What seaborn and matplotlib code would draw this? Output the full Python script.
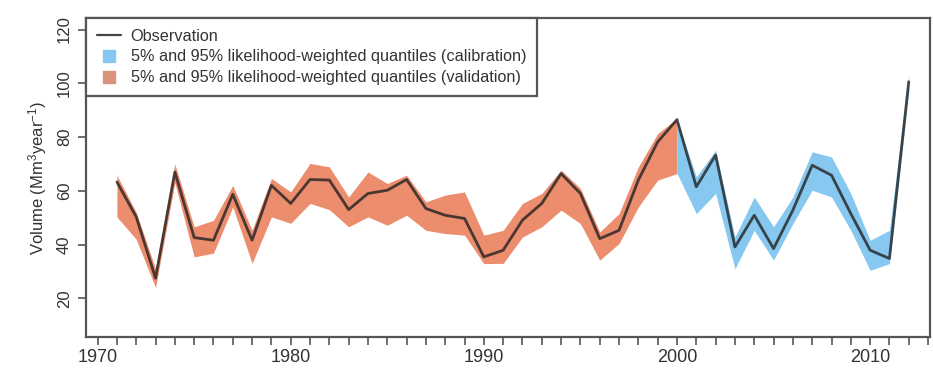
import numpy as np
import pandas as pd
import matplotlib
matplotlib.use("Agg")
import matplotlib.pyplot as plt
from matplotlib.lines import Line2D
import seaborn as sns

# ---------------- data ----------------
years = list(range(1971, 2013))
observation = [63.3, 50.3, 27.5, 67.0, 42.6, 41.6, 58.7, 41.6, 62.0, 55.3,
               64.2, 64.0, 53.0, 59.0, 60.2, 64.2, 53.4, 50.9, 49.7, 35.4,
               37.9, 49.1, 55.3, 66.4, 59.0, 42.2, 45.3, 64.0, 78.2, 86.5,
               61.5, 73.3, 39.1, 50.9, 38.5, 52.8, 69.5, 65.8, 51.5, 37.9,
               34.8, 100.6]

val_years = list(range(1971, 2001))
val_low = [50.3, 42.0, 24.0, 63.0, 35.4, 36.8, 54.0, 33.0, 50.3, 47.9,
           55.3, 53.0, 46.6, 50.3, 47.2, 50.9, 45.3, 44.1, 43.5, 32.9,
           33.0, 42.8, 46.6, 52.8, 47.8, 34.2, 40.4, 54.0, 64.0, 66.4]
val_high = [65.8, 52.0, 31.0, 70.0, 46.6, 49.0, 62.0, 45.3, 64.6, 59.6,
            70.2, 68.9, 57.7, 67.0, 62.7, 65.8, 55.9, 58.4, 59.6, 43.5,
            45.3, 55.3, 59.0, 67.7, 60.9, 44.7, 51.5, 68.9, 81.3, 86.9]

cal_years = list(range(2000, 2013))
cal_low = [66.5, 51.5, 59.0, 31.0, 45.3, 34.2, 47.8, 60.2, 57.7, 45.3,
           30.4, 32.9, 97.0]
cal_high = [86.5, 65.2, 75.1, 42.8, 57.7, 46.6, 57.7, 74.5, 72.6, 59.0,
            41.6, 45.3, 103.0]

x_labels = ["1970", "1980", "1990", "2000", "2010"]
y_ticks = [20, 40, 60, 80, 100, 120]

legend_labels = ["Observation",
                 "5% and 95% likelihood-weighted quantiles (calibration)",
                 "5% and 95% likelihood-weighted quantiles (validation)"]

# ---------------- style ----------------
sns.set_style("white")
plt.rcParams["font.family"] = ["Liberation Sans", "DejaVu Sans"]
plt.rcParams["mathtext.default"] = "regular"

col_val = "#EC8D6E"
col_cal = "#86C8EF"
col_line = "#222222"
col_axis = "#555555"

fig = plt.figure(figsize=(9.33, 3.72), dpi=100)
ax = fig.add_axes([86 / 933, 1 - 337 / 372, (930 - 86) / 933, (337 - 18) / 372])

ax.fill_between(val_years, val_low, val_high, color=col_val, linewidth=0, zorder=1)
ax.fill_between(cal_years, cal_low, cal_high, color=col_cal, linewidth=0, zorder=1)

df = pd.DataFrame({"year": years, "obs": observation})
sns.lineplot(data=df, x="year", y="obs", ax=ax, color=col_line, alpha=0.8,
             linewidth=2.0, zorder=3)

ax.set_xlim(1969.4, 2013.1)
ax.set_ylim(5.6, 124.3)

tick_years = list(range(1970, 2014))
ax.set_xticks(tick_years)
ax.set_xticklabels([x_labels[(y - 1970) // 10] if y % 10 == 0 else ""
                    for y in tick_years])
ax.set_yticks(y_ticks)
ax.set_yticklabels([str(v) for v in y_ticks], rotation=90, va="center")

ax.tick_params(axis="both", which="both", direction="out", length=6,
               width=1.2, color=col_axis, labelcolor="#333333",
               bottom=True, left=True, top=False, right=False)
ax.tick_params(axis="x", labelsize=13, pad=3)
ax.tick_params(axis="y", labelsize=12, pad=4)

for s in ax.spines.values():
    s.set_color(col_axis)
    s.set_linewidth(1.6)

ax.set_xlabel("")
ax.set_ylabel("Volume (Mm$^3$year$^{-1}$)", fontsize=12, color="#333333",
              labelpad=6)

handles = [Line2D([0], [0], color="#444444", linewidth=1.6),
           Line2D([0], [0], marker="s", linestyle="none", markersize=9,
                  markerfacecolor=col_cal, markeredgecolor=col_cal),
           Line2D([0], [0], marker="s", linestyle="none", markersize=9,
                  markerfacecolor="#D9927C", markeredgecolor="#D9927C")]
leg = ax.legend(handles, legend_labels, loc="upper left",
                bbox_to_anchor=(0, 1), borderaxespad=0, fontsize=11.7,
                frameon=True, fancybox=False, handlelength=1.5,
                handletextpad=0.6, labelspacing=0.36, borderpad=0.65)
leg.get_frame().set_edgecolor(col_axis)
leg.get_frame().set_linewidth(1.6)
leg.get_frame().set_alpha(1)
for t in leg.get_texts():
    t.set_color("#333333")

fig.savefig("out.png", dpi=100)
